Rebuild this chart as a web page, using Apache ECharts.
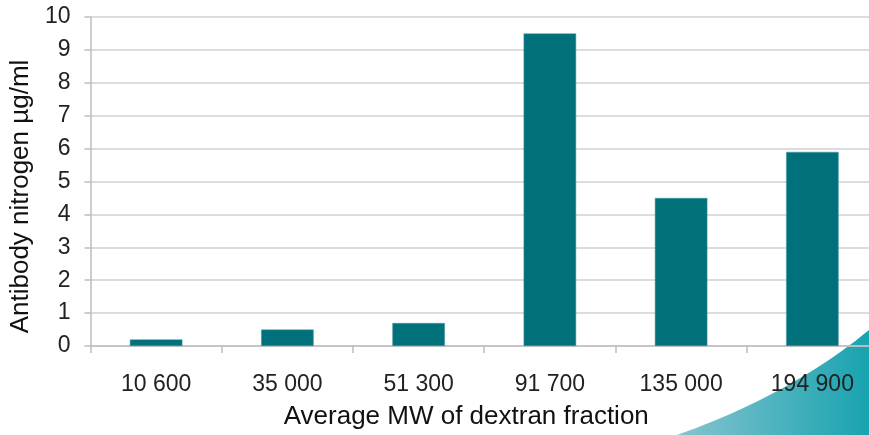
<!DOCTYPE html>
<html>
<head>
<meta charset="utf-8">
<script src="https://cdn.jsdelivr.net/npm/echarts@6/dist/echarts.min.js"></script>
<style>
  html, body { margin: 0; padding: 0; background: #fff; overflow: hidden; width: 869px; height: 435px; }
  #frame { position: relative; width: 869px; height: 435px; overflow: hidden; }
  /* plot area runs slightly past the right edge of the frame */
  #chart { position: absolute; left: 0; top: 0; width: 878px; height: 435px; }
</style>
</head>
<body>
<div id="frame"><div id="chart"></div></div>
<script>
// Dextran fractions by average molecular weight
const categories = ['10 600', '35 000', '51 300', '91 700', '135 000', '194 900'];
// Antibody nitrogen precipitated, µg/ml
const antibodyN = [0.2, 0.5, 0.7, 9.5, 4.5, 5.9];
const yTicks = { min: 0, max: 10, interval: 1 };

const chart = echarts.init(document.getElementById('chart'), null, { renderer: 'canvas', width: 878, height: 435 });
const font = 'Liberation Sans, Arial, sans-serif';

// Corner swoosh: a quadratic edge from the bottom to the right border
function swooshPoints() {
  const p0 = [677, 435], c = [790, 395], p1 = [869, 330];
  const pts = [];
  for (let i = 0; i <= 24; i++) {
    const t = i / 24, u = 1 - t;
    pts.push([
      u * u * p0[0] + 2 * u * t * c[0] + t * t * p1[0],
      u * u * p0[1] + 2 * u * t * c[1] + t * t * p1[1]
    ]);
  }
  pts.push([878, 330], [878, 435]);
  return pts;
}

chart.setOption({
  animation: false,
  backgroundColor: '#ffffff',
  grid: { left: 90, top: 17, width: 788, height: 331, containLabel: false },
  xAxis: {
    type: 'category',
    data: categories,
    name: 'Average MW of dextran fraction',
    nameLocation: 'middle',
    nameGap: 58,
    nameTextStyle: { fontFamily: font, fontSize: 26, color: '#111', padding: [0, 36, 0, 0] },
    axisLine: { lineStyle: { color: '#bdbdbd', width: 1.5 } },
    axisTick: { show: true, length: 7, lineStyle: { color: '#bdbdbd', width: 1.5 } },
    axisLabel: { fontFamily: font, fontSize: 23, color: '#222', margin: 27 }
  },
  yAxis: {
    type: 'value',
    min: yTicks.min,
    max: yTicks.max,
    interval: yTicks.interval,
    name: 'Antibody nitrogen µg/ml',
    nameLocation: 'middle',
    nameGap: 53,
    nameTextStyle: { fontFamily: font, fontSize: 26, color: '#111', padding: [0, 30, 0, 0] },
    axisLine: { show: true, lineStyle: { color: '#bdbdbd', width: 1.5 } },
    axisTick: { show: true, length: 6, lineStyle: { color: '#bdbdbd', width: 1.5 } },
    axisLabel: { fontFamily: font, fontSize: 23, color: '#222', margin: 20 },
    splitLine: { lineStyle: { color: '#d0d0d0', width: 1.5 } }
  },
  series: [{
    type: 'bar',
    data: antibodyN,
    barWidth: '40%',
    itemStyle: { color: '#00707a', borderColor: '#4a9aa2', borderWidth: 0.5 },
    z: 2
  }],
  graphic: [{
    type: 'polygon',
    z: -10,
    silent: true,
    shape: { points: swooshPoints() },
    style: {
      fill: {
        type: 'linear', x: 0, y: 0, x2: 1, y2: 0,
        colorStops: [
          { offset: 0, color: '#86c4cf' },
          { offset: 1, color: '#12a2ae' }
        ]
      }
    }
  }]
});
</script>
</body>
</html>
